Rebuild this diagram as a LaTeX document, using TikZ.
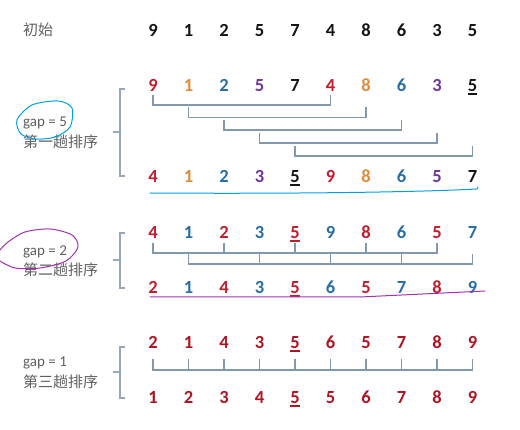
\documentclass[tikz,border=0pt]{standalone}
\usepackage{fontspec}
\setmainfont{Carlito}
\newfontfamily\cjk{Noto Sans CJK SC}
\usetikzlibrary{positioning}

\definecolor{numred}{RGB}{192,30,45}
\definecolor{deepred}{RGB}{175,20,35}
\definecolor{numorange}{RGB}{222,140,60}
\definecolor{numblue}{RGB}{40,110,165}
\definecolor{numpurple}{RGB}{112,55,155}
\definecolor{numblack}{RGB}{20,20,20}
\definecolor{labelgray}{RGB}{95,95,95}
\definecolor{bargray}{RGB}{130,152,172}
\definecolor{penblue}{RGB}{0,160,230}
\definecolor{penpurple}{RGB}{160,50,170}

\newcommand{\ulnum}[1]{\setbox0\hbox{#1}\rlap{\rule[-3pt]{\wd0}{1.6pt}}\box0}

\tikzset{
  num/.style={font=\fontsize{18.5}{18.5}\selectfont\bfseries, inner sep=0pt,
              text height=12pt, text depth=0pt, anchor=center},
  caption/.style={font=\fontsize{15}{15}\selectfont, text=labelgray,
                  anchor=west, inner sep=0pt},
  cjkcaption/.style={caption, font=\cjk\fontsize{15}{15}\selectfont},
  bar/.style={draw=bargray, line width=1.2pt},
  brace/.style={draw=bargray!85, line width=1.2pt},
  pen/.style={line width=1pt, line cap=round, line join=round},
}

\begin{document}
\begin{tikzpicture}[x=1pt, y=-1pt]
  \useasboundingbox (0,0) rectangle (520,430);

  % Initial row
  \node[cjkcaption] (init) at (23,30) {初始};
  \foreach \v [count=\i from 0] in {9,1,2,5,7,4,8,6,3,5}
    \node[num, text=numblack] (s\i) at (153+35.5*\i, 31) {\v};

  % Pass 1, gap = 5
  \node[caption] (gap1) at (23,123) {gap = 5};
  \node[cjkcaption] (pass1) at (23,142) {第一趟排序};
  \foreach \v/\c [count=\i from 0] in {9/numred,1/numorange,2/numblue,5/numpurple,7/numblack,
      4/numred,8/numorange,6/numblue,3/numpurple,{\ulnum{5}}/numblack}
    \node[num, text=\c] (a\i) at (153+35.5*\i, 86) {\v};
  \foreach \v/\c [count=\i from 0] in {4/numred,1/numorange,2/numblue,3/numpurple,{\ulnum{5}}/numblack,
      9/numred,8/numorange,6/numblue,5/numpurple,7/numblack}
    \node[num, text=\c] (b\i) at (153+35.5*\i, 177) {\v};

  \foreach \p/\q/\h in {0/5/105, 1/6/117.5, 2/7/130, 3/8/143, 4/9/156}
    \draw[bar] (a\p |- 0,\h-10) -- (a\p |- 0,\h) -- (a\q |- 0,\h) -- (a\q |- 0,\h-10);

  \draw[brace] (125,89) -- (120,89) -- (120,176) -- (125,176);
  \draw[brace] (120,132) -- (113,132);

  % Pass 2, gap = 2
  \node[caption] (gap2) at (23,252) {gap = 2};
  \node[cjkcaption] (pass2) at (23,270) {第二趟排序};
  \foreach \v/\c [count=\i from 0] in {4/numred,1/numblue,2/numred,3/numblue,{\ulnum{5}}/numred,
      9/numblue,8/numred,6/numblue,5/numred,7/numblue}
    \node[num, text=\c] (c\i) at (153+35.5*\i, 233) {\v};
  \foreach \v/\c [count=\i from 0] in {2/numred,1/numblue,4/numred,3/numblue,{\ulnum{5}}/numred,
      6/numblue,5/numred,7/numblue,8/numred,9/numblue}
    \node[num, text=\c] (d\i) at (153+35.5*\i, 288) {\v};

  \draw[bar] (c0 |- 0,243) -- (c0 |- 0,253) -- (c8 |- 0,253) -- (c8 |- 0,243);
  \foreach \k in {2,4,6}
    \draw[bar] (c\k |- 0,243) -- (c\k |- 0,253);
  \draw[bar] (c1 |- 0,254) -- (c1 |- 0,264) -- (c9 |- 0,264) -- (c9 |- 0,254);
  \foreach \k in {3,5,7}
    \draw[bar] (c\k |- 0,254) -- (c\k |- 0,264);

  \draw[brace] (125,233) -- (120,233) -- (120,288) -- (125,288);
  \draw[brace] (120,260) -- (113,260);

  % Pass 3, gap = 1
  \node[caption] (gap3) at (23,363) {gap = 1};
  \node[cjkcaption] (pass3) at (23,382) {第三趟排序};
  \foreach \v [count=\i from 0] in {2,1,4,3,{\ulnum{5}},6,5,7,8,9}
    \node[num, text=deepred] (e\i) at (153+35.5*\i, 343) {\v};
  \foreach \v [count=\i from 0] in {1,2,3,4,{\ulnum{5}},5,6,7,8,9}
    \node[num, text=deepred] (f\i) at (153+35.5*\i, 398) {\v};

  \draw[bar] (e0 |- 0,359) -- (e0 |- 0,370) -- (e9 |- 0,370) -- (e9 |- 0,359);
  \foreach \k in {1,...,8}
    \draw[bar] (e\k |- 0,359) -- (e\k |- 0,370);

  \draw[brace] (125,347) -- (120,347) -- (120,398) -- (125,398);
  \draw[brace] (120,372) -- (113,372);

  % hand-drawn marks
  \draw[pen, penblue] plot[smooth cycle] coordinates
    {(17,120) (32,105) (58,101) (72,108) (70,127) (55,137) (36,139) (21,134)};
  \draw[pen, penblue] (150,193) .. controls (300,194) and (420,192) .. (477,189) -- (478,187);
  \draw[pen, penpurple] plot[smooth] coordinates
    {(0,261) (15,268) (40,268) (66,261) (78,247) (72,235) (50,229) (25,232) (8,242) (0,250)};
  \draw[pen, penpurple] (150,297) -- (360,297) -- (485,291);
\end{tikzpicture}
\end{document}
